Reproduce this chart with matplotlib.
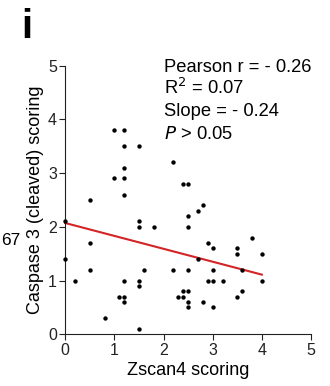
import matplotlib
matplotlib.use("Agg")
import matplotlib.pyplot as plt
import numpy as np

plt.rcParams['font.family'] = ['Liberation Sans', 'DejaVu Sans']

zscan4 = [0.0, 0.0, 0.2, 0.5, 0.5, 0.5, 0.8,
          1.0, 1.2, 1.2, 1.5, 1.0, 1.2, 1.2, 1.2, 1.5, 1.5, 1.8,
          1.1, 1.2, 1.2, 1.2, 1.5, 1.5, 1.5, 1.6,
          2.2, 2.4, 2.5, 2.5, 2.5, 2.7, 2.8, 2.9, 3.0, 3.5, 3.5, 3.8, 4.0, 2.7,
          2.2, 2.3, 2.4, 2.4, 2.5, 2.5, 2.5, 2.5, 2.8, 2.9, 3.0, 3.0, 3.0, 3.2,
          3.5, 3.6, 3.6, 4.0]
caspase3 = [2.1, 1.4, 1.0, 2.5, 1.7, 1.2, 0.3,
            3.8, 3.8, 3.5, 3.5, 2.9, 2.9, 3.1, 2.6, 2.1, 2.0, 2.0,
            0.7, 1.0, 0.7, 0.6, 1.0, 0.9, 0.1, 1.2,
            3.2, 2.8, 2.8, 2.2, 2.0, 2.3, 2.4, 1.7, 1.6, 1.6, 1.5, 1.8, 1.5, 1.4,
            1.2, 0.7, 0.7, 0.8, 0.8, 1.2, 0.6, 0.5, 0.6, 1.0, 1.0, 1.2, 0.5, 1.0,
            0.7, 0.8, 1.2, 1.0]

fit_intercept = 2.07
fit_slope = -0.24
fit_range = [0.0, 4.0]

x_ticks = [0, 1, 2, 3, 4, 5]
y_ticks = [0, 1, 2, 3, 4, 5]

stats_lines = ["Pearson r = - 0.26", r"R$^{2}$ = 0.07", "Slope = - 0.24", r"$\it{P}$ > 0.05"]

W, H = 330, 386
fig = plt.figure(figsize=(W / 100, H / 100), dpi=100)
ax = fig.add_axes([65.3 / W, 1 - 334.3 / H, (311 - 65.3) / W, (334.3 - 65.5) / H])

ax.scatter(zscan4, caspase3, s=10, color='black', zorder=3, clip_on=False, linewidths=0)
fx = np.array(fit_range)
ax.plot(fx, fit_intercept + fit_slope * fx, color='#d42426', lw=1.5, zorder=2, clip_on=False)

ax.set_xlim(0, 5)
ax.set_ylim(0, 5)
ax.set_xticks(x_ticks)
ax.set_yticks(y_ticks)
for s in ['top', 'right']:
    ax.spines[s].set_visible(False)
for s in ['left', 'bottom']:
    ax.spines[s].set_linewidth(0.8)
    ax.spines[s].set_color('#222222')
ax.tick_params(direction='out', length=4, width=0.8, labelsize=11.5, pad=2, color='#222222',
               labelcolor='#222222')

ax.set_xlabel("Zscan4 scoring", fontsize=13, labelpad=3)
ax.set_ylabel("Caspase 3 (cleaved) scoring", fontsize=13, labelpad=3)

baselines = [71.7, 94.3, 116.5, 139]
for txt, b in zip(stats_lines, baselines):
    fig.text(163.5 / W, 1 - b / H, txt, fontsize=13.2, va='baseline', ha='left')

fig.text(21 / W, 1 - 38.3 / H, "i", fontsize=29, fontweight='bold', va='baseline', ha='left')
fig.text(1.5 / W, 1 - 245 / H, "67", fontsize=12.5, va='baseline', ha='left')

fig.savefig("out.png", dpi=100)
